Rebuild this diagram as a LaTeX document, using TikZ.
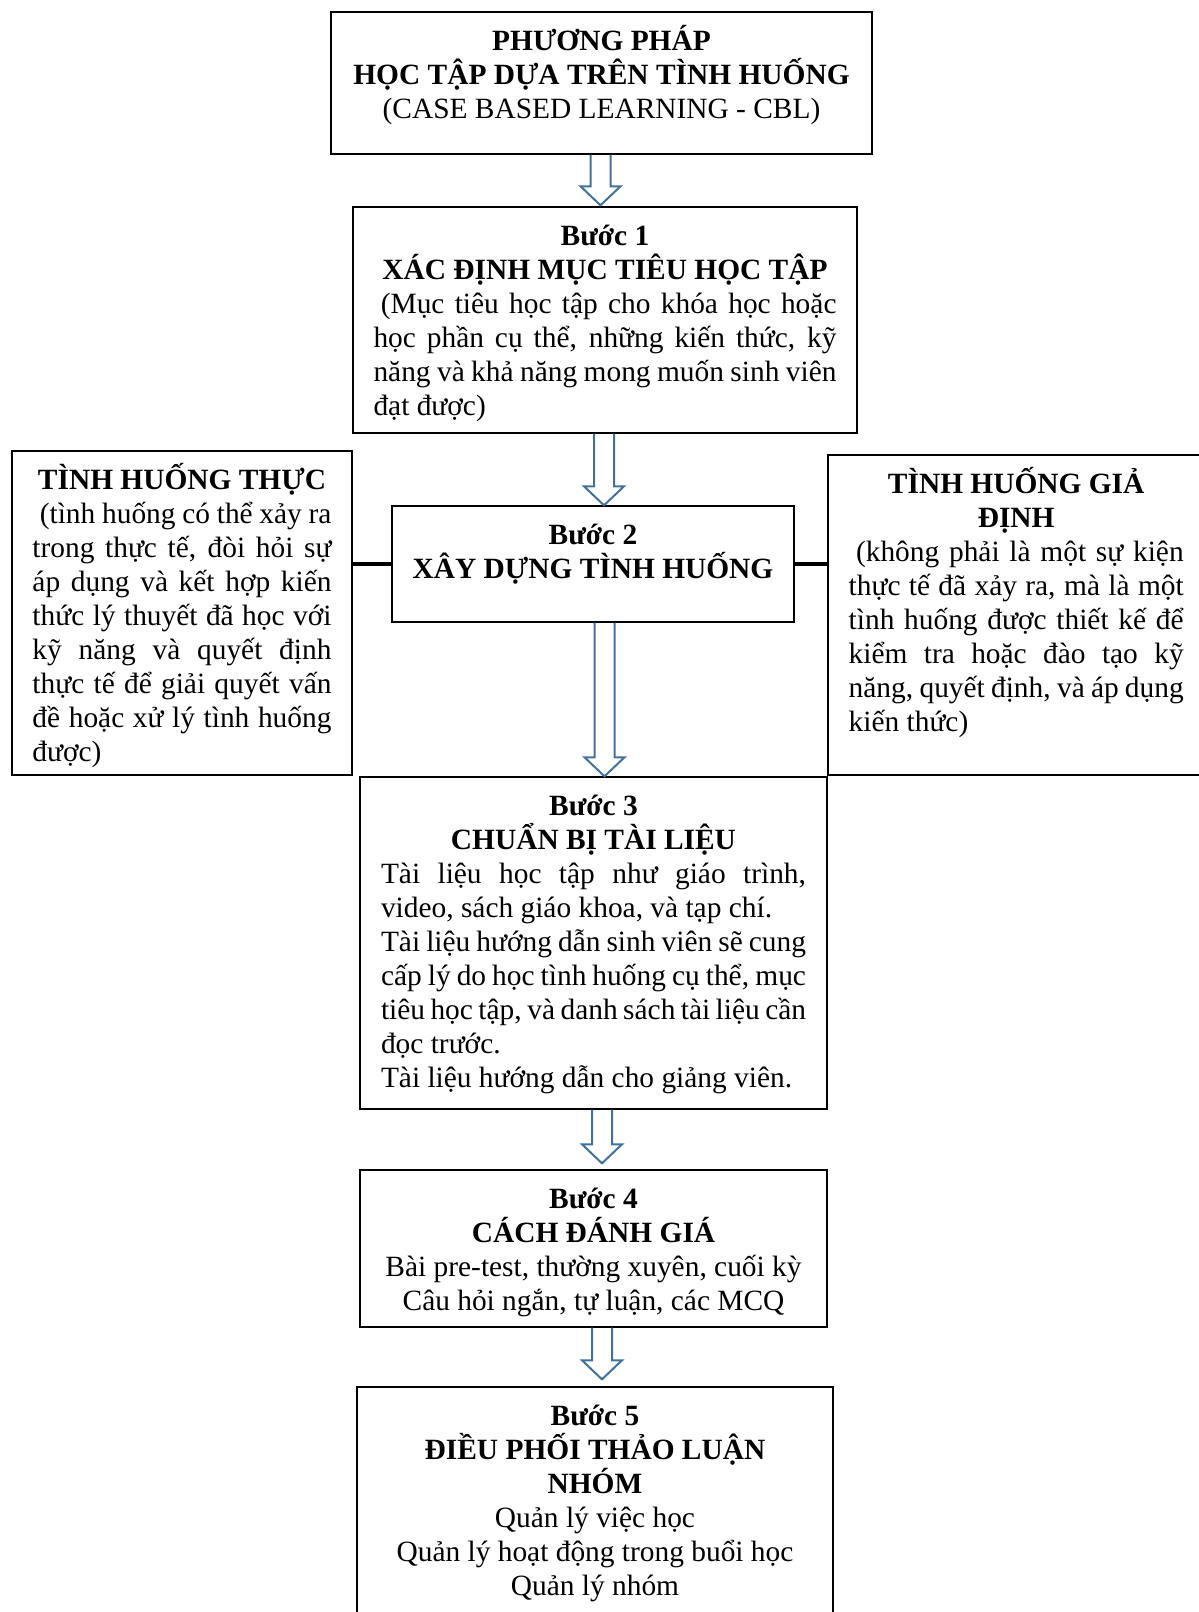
\documentclass[tikz,border=0pt]{standalone}
\usepackage{fontspec}
\setmainfont{Liberation Serif}
\usepackage{tikz}
\usetikzlibrary{calc}
\usetikzlibrary{fit}
\usetikzlibrary{positioning}
\setlength{\parindent}{0pt}

\definecolor{arrowblue}{RGB}{65,113,156}
\newcommand{\hstrut}{\rule{0pt}{1.1em}}
% hollow block arrow: from, to, x-offset, gap
\newcommand{\hollowarrow}[4]{%
  \coordinate (tail) at ($(#1.south)+(#3,0)$);
  \coordinate (tip) at ($(tail |- #2.north)+(0,-#4)$);
  \draw[blockarrow] ($(tail)+(-10,0)$) -- ($(tip)+(-10,-19)$) -- ($(tip)+(-20,-19)$) -- (tip)
    -- ($(tip)+(20,-19)$) -- ($(tip)+(10,-19)$) -- ($(tail)+(10,0)$);
}

\begin{document}
\begin{tikzpicture}[x=0.5pt, y=-0.5pt,
    box/.style={draw, line width=0.7pt, inner sep=0pt},
    txt/.style={inner sep=0pt, anchor=north, font=\fontsize{14.7pt}{17pt}\selectfont},
    link/.style={line width=2.3pt},
    blockarrow/.style={draw=arrowblue, line width=1pt, line join=miter}]
  \clip (0,0) rectangle (1199,1612);
  %--- CBL
    \node[box, fit={(331,12) (872,154)}] (cbl) {};
    \node[txt, align=center] (cbltxt) at ($(cbl.north)+(0,6)$)
      {\hstrut\textbf{PHƯƠNG PHÁP}\\ \textbf{HỌC TẬP DỰA TRÊN TÌNH HUỐNG}\\ (CASE BASED LEARNING - CBL)};
  %--- Buoc 1
    \node[box, fit={(353,207) (857,433)}] (step1) {};
    \node[txt, text width=231.5pt, align=justify] (step1txt) at ($(step1.north)+(0,6)$)
      {{\centering\bfseries\hstrut Bước 1\par XÁC ĐỊNH MỤC TIÊU HỌC TẬP\par}
       \hspace*{0.25em}(Mục tiêu học tập cho khóa học hoặc\linebreak
       học phần cụ thể, những kiến thức, kỹ\linebreak
       năng và khả năng mong muốn sinh viên\linebreak
       đạt được)};
  %--- Tinh huong thuc
    \node[box, fit={(12,451) (352,775)}] (real) {};
    \node[txt, text width=149.5pt, align=justify] (realtxt) at ($(real.north)+(0,6)$)
      {{\centering\bfseries\hstrut TÌNH HUỐNG THỰC\par}
       \hspace*{0.25em}(tình huống có thể xảy ra\linebreak
       trong thực tế, đòi hỏi sự\linebreak
       áp dụng và kết hợp kiến\linebreak
       thức lý thuyết đã học với\linebreak
       kỹ năng và quyết định\linebreak
       thực tế để giải quyết vấn\linebreak
       đề hoặc xử lý tình huống\linebreak
       được)};
  %--- Buoc 2
    \node[box, fit={(392,506) (794,622)}] (step2) {};
    \node[txt, align=center] (step2txt) at ($(step2.north)+(0,6)$)
      {\hstrut\textbf{Bước 2}\\ \textbf{XÂY DỰNG TÌNH HUỐNG}};
  %--- Tinh huong gia dinh
    \node[box, fit={(828,455) (1230,775)}] (hypo) {};
    \node[txt, anchor=north west, text width=167.5pt, align=justify] (hypotxt) at ($(hypo.north west)+(21,6)$)
      {{\centering\bfseries\hstrut TÌNH HUỐNG GIẢ\par ĐỊNH\par}
       \hspace*{0.25em}(không phải là một sự kiện\linebreak
       thực tế đã xảy ra, mà là một\linebreak
       tình huống được thiết kế để\linebreak
       kiểm tra hoặc đào tạo kỹ\linebreak
       năng, quyết định, và áp dụng\linebreak
       kiến thức)};
  %--- Buoc 3
    \node[box, fit={(360,777) (827,1109)}] (step3) {};
    \node[txt, text width=212.5pt, align=justify] (step3txt) at ($(step3.north)+(0,6)$)
      {{\centering\bfseries\hstrut Bước 3\par CHUẨN BỊ TÀI LIỆU\par}
       Tài liệu học tập như giáo trình,\linebreak
       video, sách giáo khoa, và tạp chí.\par
       Tài liệu hướng dẫn sinh viên sẽ cung\linebreak
       cấp lý do học tình huống cụ thể, mục\linebreak
       tiêu học tập, và danh sách tài liệu cần\linebreak
       đọc trước.\par
       Tài liệu hướng dẫn cho giảng viên.};
  %--- Buoc 4
    \node[box, fit={(360,1170) (827,1327)}] (step4) {};
    \node[txt, align=center] (step4txt) at ($(step4.north)+(0,6)$)
      {\hstrut\textbf{Bước 4}\\ \textbf{CÁCH ĐÁNH GIÁ}\\ Bài pre-test, thường xuyên, cuối kỳ\\ Câu hỏi ngắn, tự luận, các MCQ};
  %--- Buoc 5
    \node[box, fit={(357,1387) (833,1650)}] (step5) {};
    \node[txt, align=center] (step5txt) at ($(step5.north)+(0,6)$)
      {\hstrut\textbf{Bước 5}\\ \textbf{ĐIỀU PHỐI THẢO LUẬN}\\ \textbf{NHÓM}\\ Quản lý việc học\\
       Quản lý hoạt động trong buổi học\\ Quản lý nhóm};
  %--- links
    \draw[link] (step2.west) -- (step2.west -| real.east);
    \draw[link] (step2.east) -- (step2.east -| hypo.west);
  %--- arrows
    \hollowarrow{cbl}{step1}{-1}{1}
    \hollowarrow{step1}{step2}{-1}{0}
    \hollowarrow{step2}{step3}{11.5}{0}
    \hollowarrow{step3}{step4}{8.5}{6}
    \hollowarrow{step4}{step5}{8.5}{7}
\end{tikzpicture}
\end{document}
